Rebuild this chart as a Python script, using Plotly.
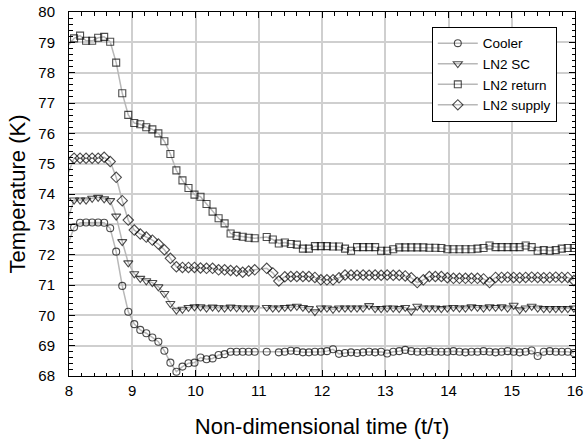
import plotly.graph_objects as go

# Non-dimensional time samples (first one lies just left of the axis range)
time = [7.985, 8.080, 8.175, 8.270, 8.366, 8.461, 8.556, 8.651, 8.746, 8.842,
        8.937, 9.032, 9.127, 9.222, 9.318, 9.413, 9.508, 9.603, 9.698, 9.794,
        9.889, 9.984, 10.079, 10.174, 10.270, 10.365, 10.460, 10.555, 10.650, 10.746,
        10.841, 10.936, 11.031, 11.126, 11.222, 11.317, 11.412, 11.507, 11.602, 11.698,
        11.793, 11.888, 11.983, 12.078, 12.174, 12.269, 12.364, 12.459, 12.554, 12.650,
        12.745, 12.840, 12.935, 13.030, 13.126, 13.221, 13.316, 13.411, 13.506, 13.602,
        13.697, 13.792, 13.887, 13.982, 14.078, 14.173, 14.268, 14.363, 14.458, 14.554,
        14.649, 14.744, 14.839, 14.934, 15.030, 15.125, 15.220, 15.315, 15.410, 15.506,
        15.601, 15.696, 15.791, 15.886, 15.982]

cooler = [72.35, 72.90, 73.05, 73.06, 73.06, 73.06, 73.05, 72.87, 72.10, 70.97,
          70.12, 69.71, 69.52, 69.41, 69.27, 69.13, 68.83, 68.44, 68.14, 68.31,
          68.42, 68.44, 68.61, 68.55, 68.58, 68.69, 68.72, 68.80, 68.80, 68.80,
          68.80, 68.80, None, 68.80, None, 68.78, 68.80, 68.83, 68.82, 68.78,
          68.78, 68.80, 68.80, 68.82, 68.88, 68.73, 68.76, 68.78, 68.76, 68.78,
          68.80, 68.78, 68.80, 68.74, 68.80, 68.82, 68.86, 68.82, 68.80, 68.80,
          68.82, 68.80, 68.80, 68.80, 68.82, 68.80, 68.78, 68.80, 68.80, 68.82,
          68.80, 68.78, 68.80, 68.82, 68.80, 68.78, 68.80, 68.84, 68.66, 68.80,
          68.82, 68.80, 68.80, 68.80, 68.76]

ln2_sc = [73.20, 73.80, 73.80, 73.80, 73.86, 73.89, 73.84, 73.78, 73.27, 72.43,
          71.73, 71.37, 71.22, 71.14, 71.08, 70.94, 70.72, 70.39, 70.17, 70.20,
          70.26, 70.28, 70.28, 70.24, 70.27, 70.25, 70.24, 70.27, 70.25, 70.24,
          70.24, 70.24, None, 70.26, 70.24, 70.24, 70.26, 70.27, 70.30, 70.26,
          70.22, 70.12, 70.24, 70.24, 70.20, 70.24, 70.24, 70.24, 70.24, 70.24,
          70.32, 70.22, 70.22, 70.24, 70.24, 70.22, 70.26, 70.14, 70.30, 70.24,
          70.24, 70.24, 70.22, 70.24, 70.26, 70.24, 70.24, 70.28, 70.26, 70.24,
          70.28, 70.26, 70.28, 70.24, 70.33, 70.18, 70.24, 70.30, 70.24, 70.22,
          70.22, 70.22, 70.22, 70.22, 70.24]

ln2_return = [78.90, 79.13, 79.22, 79.05, 79.05, 79.15, 79.18, 79.02, 78.33, 77.32,
              76.61, 76.34, 76.30, 76.20, 76.13, 76.00, 75.74, 75.32, 74.78, 74.45,
              74.20, 73.98, 73.91, 73.67, 73.42, 73.20, 73.03, 72.70, 72.62, 72.59,
              72.56, 72.54, None, 72.58, 72.50, 72.37, 72.40, 72.35, 72.33, 72.20,
              72.20, 72.28, 72.28, 72.28, 72.27, 72.27, 72.20, 72.13, 72.25, 72.25,
              72.25, 72.25, 72.13, 72.13, 72.18, 72.24, 72.24, 72.24, 72.24, 72.24,
              72.23, 72.23, 72.22, 72.18, 72.18, 72.18, 72.18, 72.18, 72.20, 72.22,
              72.30, 72.25, 72.25, 72.25, 72.25, 72.25, 72.30, 72.25, 72.13, 72.15,
              72.13, 72.15, 72.20, 72.22, 72.22]

ln2_supply = [74.68, 75.18, 75.18, 75.18, 75.18, 75.18, 75.21, 75.07, 74.55, 73.78,
              73.14, 72.81, 72.68, 72.58, 72.48, 72.35, 72.16, 71.88, 71.60, 71.58,
              71.58, 71.58, 71.56, 71.55, 71.55, 71.50, 71.50, 71.48, 71.46, 71.42,
              71.46, 71.50, None, 71.55, 71.40, 71.13, 71.27, 71.28, 71.28, 71.28,
              71.28, 71.25, 71.17, 71.17, 71.17, 71.24, 71.33, 71.33, 71.32, 71.33,
              71.32, 71.33, 71.32, 71.33, 71.32, 71.32, 71.30, 71.24, 71.08, 71.17,
              71.28, 71.28, 71.28, 71.24, 71.22, 71.22, 71.22, 71.22, 71.22, 71.20,
              71.08, 71.25, 71.25, 71.26, 71.25, 71.24, 71.25, 71.26, 71.25, 71.24,
              71.25, 71.26, 71.25, 71.25, 71.15]

series = [
    ("Cooler", cooler, "circle-open", 7),
    ("LN2 SC", ln2_sc, "triangle-down-open", 8),
    ("LN2 return", ln2_return, "square-open", 7),
    ("LN2 supply", ln2_supply, "diamond-open", 8),
]

FONT = "Arial, Liberation Sans, sans-serif"

fig = go.Figure()
for name, vals, sym, size in series:
    # the sample before t=8 only contributes its line segment (no visible marker)
    sizes = [0] + [size] * (len(vals) - 1)
    fig.add_trace(go.Scatter(
        x=time, y=vals, name=name, mode="lines+markers", connectgaps=True,
        line=dict(color="#b8b8b8", width=1.5),
        marker=dict(symbol=sym, size=sizes, color="black", line=dict(width=1.1, color="black")),
    ))

axis_common = dict(
    showline=True, linecolor="black", linewidth=1, mirror="allticks",
    ticks="inside", ticklen=6, tickcolor="black", tickwidth=1,
    showgrid=True, gridcolor="#cfcfcf", gridwidth=1.5,
    zeroline=False, tickfont=dict(size=15, color="black", family=FONT),
    ticklabeloverflow="allow",
)

fig.update_xaxes(
    range=[8, 16], dtick=1, tick0=8, ticklabelstandoff=1,
    minor=dict(dtick=0.2, ticks="inside", ticklen=3.5, tickcolor="black", showgrid=False),
    title=dict(text="Non-dimensional time (t/τ)", font=dict(size=22, color="black", family=FONT), standoff=20),
    **axis_common,
)
fig.update_yaxes(
    range=[68, 80], dtick=1, tick0=68, ticklabelstandoff=10,
    minor=dict(dtick=0.2, ticks="inside", ticklen=3.5, tickcolor="black", showgrid=False),
    title=dict(text="Temperature (K)", font=dict(size=22, color="black", family=FONT), standoff=6),
    **axis_common,
)

fig.update_layout(
    width=584, height=445,
    margin=dict(l=69, r=9, t=12, b=69, autoexpand=False),
    paper_bgcolor="white", plot_bgcolor="white",
    font=dict(family=FONT, color="black"),
    legend=dict(
        x=0.717, y=0.959, xanchor="left", yanchor="top",
        bgcolor="white", bordercolor="black", borderwidth=1,
        font=dict(size=13.5, color="black", family=FONT),
        tracegroupgap=0, itemwidth=40,
    ),
    showlegend=True,
)

fig.write_html(
    "out.html",
    config={"displayModeBar": False},
    post_script="document.body.style.margin='0';document.body.style.padding='0';document.body.style.overflow='hidden';",
)
